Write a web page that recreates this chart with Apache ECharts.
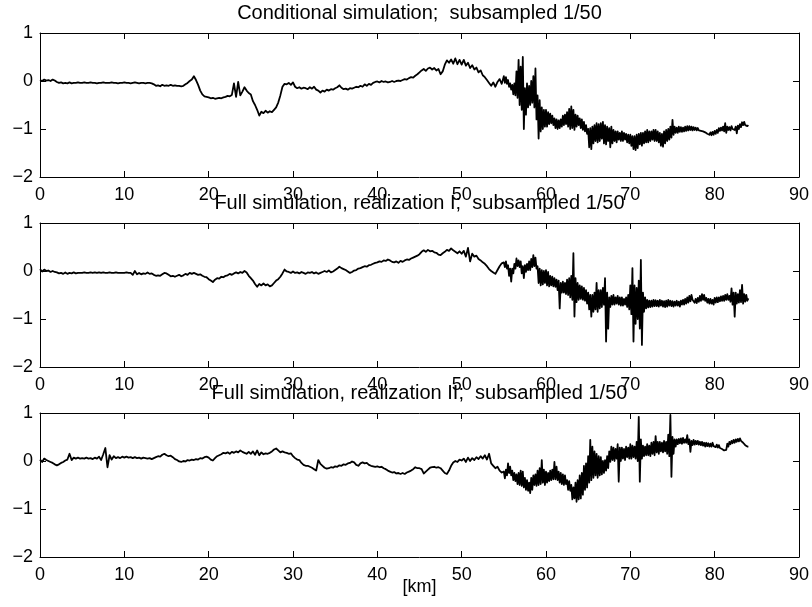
<!DOCTYPE html>
<html>
<head>
<meta charset="utf-8">
<script src="https://cdn.jsdelivr.net/npm/echarts@6/dist/echarts.min.js"></script>
<style>
html,body{margin:0;padding:0;background:#fff;}
#chart{width:812px;height:607px;}
</style>
</head>
<body>
<div id="chart"></div>
<script>
// sampling of the profile [km]: coarse part 0..54.75 km, fine part 55..84 km
const COARSE_STEP = 0.25;
const FINE_START = 55;
const FINE_STEP = 0.125;

const panelTitles = [
  'Conditional simulation;  subsampled 1/50',
  'Full simulation, realization I;  subsampled 1/50',
  'Full simulation, realization II;  subsampled 1/50'
];
const xAxisName = '[km]';

// ---- Conditional simulation ----
const condCoarse = [
  0.02,0.00,0.03,0.01,0.02,0.00,0.03,0.01,-0.02,-0.04,-0.03,-0.05,-0.04,-0.05,-0.03,-0.05,-0.04,-0.04,-0.03,-0.04,
  -0.04,-0.03,-0.04,-0.04,-0.03,-0.04,-0.04,-0.05,-0.04,-0.04,-0.03,-0.04,-0.04,-0.04,-0.03,-0.04,-0.04,-0.05,-0.04,-0.04,
  -0.03,-0.04,-0.04,-0.05,-0.04,-0.03,-0.04,-0.05,-0.04,-0.04,-0.05,-0.04,-0.04,-0.05,-0.07,-0.10,-0.09,-0.11,-0.08,-0.10,
  -0.09,-0.10,-0.08,-0.10,-0.09,-0.10,-0.10,-0.11,-0.10,-0.07,-0.04,0.00,0.03,0.10,0.02,-0.08,-0.20,-0.28,-0.32,-0.33,
  -0.34,-0.36,-0.35,-0.37,-0.36,-0.35,-0.36,-0.34,-0.33,-0.31,-0.32,-0.29,-0.05,-0.33,-0.02,-0.30,-0.22,-0.13,-0.20,-0.25,
  -0.28,-0.42,-0.50,-0.60,-0.72,-0.64,-0.67,-0.62,-0.66,-0.63,-0.65,-0.60,-0.55,-0.45,-0.30,-0.12,-0.06,-0.07,-0.04,-0.08,
  -0.03,-0.12,-0.15,-0.13,-0.16,-0.14,-0.15,-0.17,-0.13,-0.16,-0.12,-0.18,-0.20,-0.24,-0.20,-0.22,-0.18,-0.20,-0.17,-0.18,
  -0.15,-0.13,-0.09,-0.14,-0.17,-0.16,-0.18,-0.15,-0.16,-0.14,-0.12,-0.13,-0.10,-0.12,-0.07,-0.10,-0.06,-0.08,-0.04,-0.02,
  -0.01,-0.03,0.00,-0.02,-0.01,-0.03,-0.02,0.00,-0.02,0.00,0.01,0.00,0.02,0.04,0.03,0.06,0.08,0.07,0.11,0.14,
  0.18,0.22,0.25,0.21,0.26,0.28,0.24,0.27,0.22,0.25,0.14,0.20,0.34,0.43,0.38,0.45,0.36,0.47,0.35,0.44,
  0.34,0.44,0.32,0.38,0.27,0.33,0.24,0.28,0.18,0.22,0.12,0.08,0.02,-0.04,-0.10,-0.03,-0.12,-0.02,0.04,-0.06
];
const condFine = [
  0.10,-0.04,0.08,-0.06, 0.02,-0.12,-0.05,-0.18, -0.08,-0.28,-0.05,-0.30, 0.20,-0.35,0.44,-0.50,
  0.30,-0.60,0.50,-1.00, -0.15,-0.70,-0.05,-0.55, -0.10,-0.50,0.00,-0.45, 0.10,-0.55,0.26,-0.80,
  -0.30,-1.20,-0.40,-1.05, -0.55,-1.00,-0.60,-0.95, -0.60,-0.95,-0.65,-0.90, -0.68,-0.88,-0.72,-0.92,
  -0.78,-0.98,-0.80,-1.00, -0.82,-0.98,-0.80,-0.95, -0.72,-0.92,-0.70,-0.90, -0.65,-0.95,-0.58,-1.00,
  -0.53,-0.98,-0.60,-1.02, -0.70,-0.95,-0.72,-0.92, -0.78,-0.98,-0.80,-1.02, -0.85,-1.05,-0.92,-1.10,
  -1.00,-1.38,-0.98,-1.42, -0.95,-1.30,-0.92,-1.25, -0.88,-1.28,-0.90,-1.25, -0.88,-1.20,-0.85,-1.30,
  -0.92,-1.32,-0.95,-1.25, -0.98,-1.38,-0.95,-1.30, -1.02,-1.25,-1.05,-1.28, -1.05,-1.22,-1.08,-1.25,
  -1.05,-1.25,-1.08,-1.22, -1.10,-1.28,-1.12,-1.30, -1.12,-1.35,-1.15,-1.42, -1.15,-1.44,-1.12,-1.40,
  -1.10,-1.32,-1.08,-1.35, -1.08,-1.30,-1.05,-1.28, -1.02,-1.28,-1.05,-1.25, -1.05,-1.22,-1.02,-1.25,
  -1.02,-1.25,-1.05,-1.28, -1.08,-1.35,-1.10,-1.37, -1.05,-1.30,-1.02,-1.25, -1.00,-1.22,-0.95,-1.18,
  -0.81,-1.12,-0.95,-1.08, -0.97,-1.08,-0.95,-1.06, -0.96,-1.06,-0.97,-1.05, -0.95,-1.04,-0.94,-1.03,
  -0.94,-1.02,-0.95,-1.03, -0.96,-1.02,-0.97,-1.03, -0.98,-1.03,-0.99,-1.04, -1.00,-1.05,-1.02,-1.07,
  -1.04,-1.10,-1.06,-1.12, -1.07,-1.13,-1.06,-1.12, -1.04,-1.10,-1.02,-1.08, -0.98,-1.04,-0.97,-1.03,
  -0.95,-1.05,-0.88,-1.08, -0.95,-1.02,-0.96,-1.03, -0.94,-1.00,-0.96,-1.02, -0.95,-1.09,-0.93,-1.00,
  -0.90,-0.96,-0.86,-0.92, -0.85,-0.92,-0.88,-0.94,
  -0.92
];

// ---- Full simulation, realization I ----
const realICoarse = [
  0.04,-0.01,0.03,0.00,0.01,-0.02,0.00,-0.02,-0.03,-0.05,-0.04,-0.06,-0.03,-0.06,-0.04,-0.05,-0.03,-0.05,-0.04,-0.04,
  -0.04,-0.03,-0.04,-0.04,-0.03,-0.04,-0.03,-0.04,-0.03,-0.04,-0.03,-0.04,-0.04,-0.03,-0.04,-0.04,-0.03,-0.04,-0.04,-0.04,
  -0.04,-0.03,-0.04,-0.04,-0.08,0.00,-0.07,-0.04,-0.07,-0.05,-0.06,-0.03,-0.06,-0.05,-0.08,-0.10,-0.09,-0.10,-0.07,-0.04,
  -0.05,-0.08,-0.11,-0.10,-0.12,-0.10,-0.08,-0.11,-0.09,-0.06,-0.08,-0.04,-0.06,-0.04,-0.06,-0.08,-0.07,-0.10,-0.12,-0.13,
  -0.17,-0.20,-0.23,-0.18,-0.15,-0.16,-0.12,-0.13,-0.10,-0.09,-0.06,-0.08,-0.05,-0.03,-0.05,-0.02,-0.04,0.00,-0.03,-0.10,
  -0.15,-0.20,-0.27,-0.33,-0.27,-0.30,-0.26,-0.30,-0.28,-0.32,-0.30,-0.25,-0.20,-0.17,-0.12,-0.05,0.03,-0.01,-0.02,-0.04,
  -0.01,-0.04,-0.03,-0.05,-0.02,-0.04,-0.06,-0.03,-0.04,-0.02,-0.05,-0.03,-0.06,-0.04,-0.02,0.00,-0.02,0.01,-0.03,-0.01,
  0.02,0.05,0.09,0.06,0.04,0.02,-0.01,-0.04,-0.02,0.01,0.02,0.05,0.06,0.08,0.10,0.09,0.12,0.13,0.15,0.17,
  0.18,0.20,0.19,0.22,0.21,0.24,0.22,0.19,0.18,0.20,0.17,0.21,0.19,0.22,0.24,0.23,0.26,0.28,0.30,0.32,
  0.35,0.40,0.43,0.40,0.44,0.41,0.42,0.39,0.38,0.34,0.33,0.37,0.40,0.44,0.42,0.47,0.43,0.40,0.37,0.41,
  0.36,0.42,0.30,0.48,0.20,0.36,0.30,0.32,0.25,0.22,0.18,0.15,0.10,0.04,0.00,-0.03,-0.06,0.02,0.10,0.16
];
const realIFine = [
  0.18,0.08,0.20,0.05, 0.12,-0.10,0.05,-0.22, 0.05,-0.05,0.15,0.05, 0.26,0.10,0.22,0.08,
  0.20,-0.05,0.10,-0.15, 0.12,-0.02,0.15,0.02, 0.20,0.02,0.25,0.08, 0.33,0.10,0.28,0.05,
  0.10,-0.25,0.05,-0.30, 0.02,-0.28,0.00,-0.25, 0.02,-0.30,-0.02,-0.32, -0.10,-0.30,-0.12,-0.32,
  -0.15,-0.33,-0.18,-0.40, -0.20,-0.78,-0.25,-0.45, -0.22,-0.45,-0.25,-0.48, -0.18,-0.50,-0.15,-0.55,
  -0.10,-0.60,0.37,-0.95, -0.15,-0.65,-0.25,-0.60, -0.30,-0.58,-0.32,-0.60, -0.35,-0.62,-0.40,-0.68,
  -0.45,-0.80,-0.50,-0.95, -0.50,-0.85,-0.45,-0.80, -0.25,-0.85,-0.40,-0.78, -0.40,-0.75,-0.35,-0.70,
  -0.15,-1.47,-0.45,-1.20, -0.55,-0.75,-0.52,-0.70, -0.50,-0.70,-0.55,-0.68, -0.52,-0.70,-0.55,-0.72,
  -0.55,-0.72,-0.58,-0.70, -0.55,-0.75,-0.50,-0.80, -0.30,-0.90,0.06,-1.47, -0.30,-1.10,-0.35,-1.00,
  -0.20,-1.20,0.23,-1.54, -0.45,-0.85,-0.55,-0.78, -0.60,-0.76,-0.62,-0.75, -0.62,-0.74,-0.60,-0.73,
  -0.61,-0.73,-0.62,-0.74, -0.60,-0.72,-0.62,-0.74, -0.63,-0.75,-0.62,-0.74, -0.60,-0.72,-0.62,-0.73,
  -0.63,-0.74,-0.64,-0.72, -0.62,-0.72,-0.64,-0.74, -0.62,-0.70,-0.60,-0.70, -0.58,-0.68,-0.55,-0.66,
  -0.52,-0.63,-0.50,-0.60, -0.56,-0.66,-0.58,-0.67, -0.56,-0.64,-0.52,-0.62, -0.48,-0.60,-0.50,-0.62,
  -0.56,-0.66,-0.58,-0.68, -0.58,-0.68,-0.60,-0.70, -0.56,-0.66,-0.55,-0.65, -0.55,-0.63,-0.53,-0.62,
  -0.52,-0.62,-0.50,-0.60, -0.48,-0.60,-0.52,-0.64, -0.36,-0.70,-0.45,-0.95, -0.45,-0.68,-0.48,-0.66,
  -0.40,-0.65,-0.29,-0.68, -0.48,-0.64,-0.50,-0.62,
  -0.57
];

// ---- Full simulation, realization II ----
const realIICoarse = [
  0.03,-0.02,0.05,0.02,0.00,-0.02,-0.04,-0.07,-0.09,-0.07,-0.04,-0.02,0.01,0.03,0.15,0.02,0.07,0.05,0.07,0.05,
  0.06,0.05,0.07,0.05,0.06,0.04,0.07,0.05,0.09,0.02,0.14,0.27,-0.13,0.12,0.03,0.10,0.06,0.08,0.06,0.09,
  0.07,0.09,0.07,0.08,0.06,0.08,0.06,0.07,0.05,0.07,0.06,0.05,0.06,0.04,0.06,0.08,0.10,0.09,0.13,0.15,
  0.12,0.10,0.11,0.08,0.04,0.02,-0.01,-0.02,0.00,-0.01,0.02,0.01,0.03,0.02,0.04,0.03,0.06,0.05,0.08,0.09,
  0.07,0.03,0.01,0.06,0.10,0.12,0.14,0.17,0.16,0.18,0.15,0.19,0.17,0.20,0.18,0.22,0.19,0.17,0.15,0.19,
  0.15,0.20,0.13,0.22,0.12,0.18,0.14,0.16,0.15,0.17,0.20,0.24,0.26,0.22,0.18,0.20,0.18,0.17,0.15,0.16,
  0.10,0.06,0.03,0.02,-0.04,-0.08,-0.10,-0.10,-0.12,-0.14,-0.17,-0.20,0.02,-0.06,-0.10,-0.14,-0.16,-0.15,-0.13,-0.14,
  -0.11,-0.12,-0.09,-0.10,-0.07,-0.08,-0.05,-0.04,-0.01,-0.03,-0.08,-0.10,-0.05,-0.03,-0.05,-0.04,-0.08,-0.10,-0.11,-0.12,
  -0.11,-0.13,-0.12,-0.15,-0.17,-0.20,-0.22,-0.24,-0.23,-0.26,-0.25,-0.27,-0.25,-0.27,-0.24,-0.22,-0.20,-0.17,-0.13,-0.15,
  -0.15,-0.17,-0.26,-0.22,-0.18,-0.14,-0.13,-0.12,-0.14,-0.13,-0.15,-0.20,-0.25,-0.27,-0.20,-0.10,-0.03,0.00,-0.02,0.03,
  0.01,0.05,-0.02,0.07,0.00,0.06,0.02,0.08,0.04,0.10,0.05,0.12,0.03,0.15,-0.05,-0.10,-0.15,-0.12,-0.20,-0.24
];
const realIIFine = [
  -0.22,-0.36,-0.18,-0.30, -0.05,-0.25,-0.12,-0.30, -0.20,-0.40,-0.25,-0.42, -0.28,-0.48,-0.25,-0.50,
  -0.20,-0.52,-0.22,-0.55, -0.35,-0.60,-0.40,-0.62, -0.45,-0.67,-0.35,-0.60, -0.30,-0.50,-0.28,-0.52,
  -0.20,-0.50,-0.15,-0.48, 0.02,-0.45,-0.18,-0.50, -0.22,-0.45,-0.25,-0.42, -0.20,-0.40,-0.18,-0.38,
  -0.02,-0.38,-0.12,-0.40, -0.22,-0.45,-0.25,-0.48, -0.28,-0.50,-0.30,-0.48, -0.40,-0.60,-0.42,-0.62,
  -0.50,-0.80,-0.55,-0.78, -0.45,-0.85,-0.40,-0.80, -0.30,-0.78,-0.25,-0.70, -0.10,-0.60,-0.05,-0.55,
  0.10,-0.45,0.44,-0.40, 0.30,-0.35,0.20,-0.30, 0.15,-0.35,0.10,-0.30, 0.08,-0.28,0.00,-0.25,
  0.02,-0.20,0.10,-0.15, 0.20,-0.02,0.30,0.02, 0.28,0.00,0.25,0.05, 0.35,-0.43,0.28,0.00,
  0.28,0.05,0.25,0.02, 0.30,0.08,0.28,0.05, 0.35,0.05,0.32,0.08, 0.30,0.05,0.40,0.00,
  0.92,-0.43,0.45,0.05, 0.32,0.10,0.30,0.12, 0.35,0.12,0.32,0.10, 0.38,0.15,0.40,0.12,
  0.52,0.18,0.40,0.15, 0.40,0.20,0.38,0.18, 0.42,0.20,0.40,0.15, 0.55,0.10,0.96,-0.33,
  0.50,0.15,0.45,0.30, 0.45,0.35,0.46,0.37, 0.47,0.36,0.48,0.38, 0.45,0.38,0.54,0.35,
  0.45,0.19,0.42,0.33, 0.44,0.34,0.42,0.35, 0.42,0.34,0.40,0.33, 0.40,0.32,0.38,0.30,
  0.38,0.31,0.37,0.30, 0.36,0.30,0.38,0.31, 0.35,0.29,0.34,0.28, 0.33,0.27,0.30,0.25,
  0.28,0.22,0.26,0.23, 0.36,0.30,0.40,0.35, 0.42,0.37,0.44,0.38, 0.45,0.40,0.46,0.41,
  0.47,0.42,0.44,0.38, 0.38,0.33,0.35,0.30,
  0.30
];

const panels = [
  [condCoarse, condFine],
  [realICoarse, realIFine],
  [realIICoarse, realIIFine]
];

const FONT = "'Liberation Sans', Arial, Helvetica, sans-serif";
const GRID_LEFT = 40, GRID_W = 759, GRID_H = 144;
const GRID_TOPS = [33, 223, 413];
const TITLE_Y = [13.5, 203.5, 393];

function toPairs(coarse, fine) {
  const a = coarse.map((v, i) => [i * COARSE_STEP, v]);
  const b = fine.map((v, j) => [FINE_START + j * FINE_STEP, v]);
  return a.concat(b);
}
const minusFmt = v => String(v).replace('-', '\u2212');

const grids = [], xAxes = [], yAxes = [], series = [], graphics = [];
const lineBlack = { show: true, onZero: false, lineStyle: { color: '#000', width: 1 } };
const tickIn = { show: true, inside: true, length: 6, lineStyle: { color: '#000', width: 1 } };

panels.forEach((p, k) => {
  grids.push({ left: GRID_LEFT, top: GRID_TOPS[k], width: GRID_W, height: GRID_H, containLabel: false });
  xAxes.push({
    type: 'value', gridIndex: k, position: 'bottom', min: 0, max: 90, interval: 10,
    axisLine: lineBlack, axisTick: tickIn, splitLine: { show: false },
    axisLabel: { show: true, color: '#000', fontFamily: FONT, fontSize: 18, margin: 9 },
    name: k === 2 ? xAxisName : '', nameLocation: 'middle', nameGap: 21, nameMoveOverlap: false,
    nameTextStyle: { color: '#000', fontFamily: FONT, fontSize: 18 }
  });
  xAxes.push({
    type: 'value', gridIndex: k, position: 'top', min: 0, max: 90, interval: 10,
    axisLine: lineBlack, axisTick: tickIn, splitLine: { show: false }, axisLabel: { show: false }
  });
  yAxes.push({
    type: 'value', gridIndex: k, position: 'left', min: -2, max: 1, interval: 1,
    axisLine: lineBlack, axisTick: tickIn, splitLine: { show: false },
    axisLabel: { show: true, color: '#000', fontFamily: FONT, fontSize: 18, margin: 7, formatter: minusFmt }
  });
  yAxes.push({
    type: 'value', gridIndex: k, position: 'right', min: -2, max: 1, interval: 1,
    axisLine: lineBlack, axisTick: tickIn, splitLine: { show: false }, axisLabel: { show: false }
  });
  series.push({
    type: 'line', xAxisIndex: 2 * k, yAxisIndex: 2 * k, data: toPairs(p[0], p[1]),
    showSymbol: false, symbol: 'none', clip: true, sampling: null,
    lineStyle: { color: '#000', width: 1.8, join: 'round' }, z: 1
  });
  graphics.push({
    type: 'text', x: GRID_LEFT + GRID_W / 2, y: TITLE_Y[k], z: 100,
    style: { text: panelTitles[k], fill: '#000', font: '20px ' + FONT, textAlign: 'center', textVerticalAlign: 'middle' }
  });
});

const chart = echarts.init(document.getElementById('chart'), null, { renderer: 'canvas' });
chart.setOption({
  animation: false,
  backgroundColor: '#fff',
  grid: grids,
  xAxis: xAxes,
  yAxis: yAxes,
  series: series,
  graphic: graphics
});
</script>
</body>
</html>
